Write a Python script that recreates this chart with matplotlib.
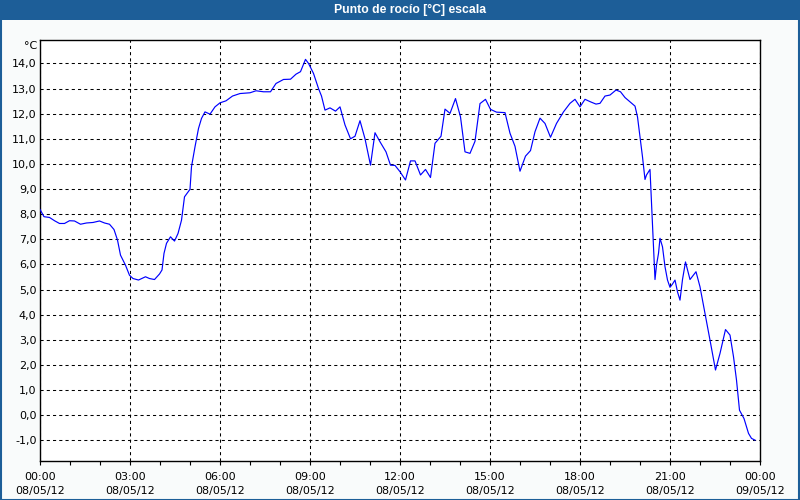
import matplotlib
matplotlib.use("Agg")
import matplotlib.pyplot as plt
from matplotlib.patches import Rectangle

# Readings: minutes after 08/05/12 00:00 and dew point (°C)
minutes = [0, 8, 19, 29, 39, 49, 59, 69, 81, 93, 106, 119, 129, 139, 148, 155, 161, 171,
           179, 186, 197, 211, 219, 229, 239, 244, 248, 253, 261, 269, 276, 283, 289, 300,
           303, 310, 317, 323, 330, 340, 350, 360, 372, 385, 400, 420, 432, 447, 461, 472,
           487, 501, 512, 521, 531, 537, 547, 557, 563, 570, 580, 591, 600, 610, 621, 630,
           640, 650, 661, 670, 680, 692, 701, 710, 720, 731, 741, 750, 761, 771, 781, 790,
           802, 810, 820, 831, 841, 850, 860, 870, 880, 891, 901, 913, 930, 940, 950, 960,
           971, 981, 990, 1000, 1010, 1021, 1033, 1047, 1060, 1070, 1080, 1090, 1101, 1112,
           1120, 1130, 1140, 1152, 1161, 1170, 1180, 1190, 1195, 1200, 1205, 1210, 1213,
           1220, 1223, 1227, 1230, 1233, 1237, 1240, 1245, 1250, 1255, 1260, 1265, 1270,
           1275, 1280, 1285, 1291, 1300, 1312, 1320, 1330, 1340, 1351, 1360, 1371, 1380,
           1387, 1393, 1399, 1408, 1417, 1423, 1430]
dew_point = [8.19, 7.90, 7.87, 7.74, 7.63, 7.63, 7.74, 7.73, 7.60, 7.65, 7.67, 7.73, 7.65,
             7.60, 7.39, 6.97, 6.37, 5.97, 5.57, 5.44, 5.38, 5.51, 5.44, 5.40, 5.62, 5.78,
             6.44, 6.84, 7.10, 6.93, 7.23, 7.76, 8.69, 8.99, 9.89, 10.68, 11.41, 11.81,
             12.07, 11.98, 12.27, 12.43, 12.51, 12.70, 12.80, 12.83, 12.91, 12.87, 12.87,
             13.20, 13.36, 13.37, 13.57, 13.67, 14.16, 14.00, 13.60, 13.00, 12.70, 12.14,
             12.23, 12.10, 12.27, 11.55, 11.00, 11.10, 11.72, 11.00, 9.95, 11.24, 10.88,
             10.48, 9.95, 9.94, 9.69, 9.36, 10.12, 10.12, 9.56, 9.78, 9.46, 10.82, 11.10,
             12.18, 12.01, 12.60, 11.87, 10.48, 10.42, 10.90, 12.40, 12.57, 12.17, 12.06,
             12.04, 11.22, 10.70, 9.71, 10.31, 10.53, 11.28, 11.82, 11.61, 11.06, 11.61,
             12.07, 12.41, 12.57, 12.27, 12.57, 12.47, 12.38, 12.41, 12.70, 12.74, 12.94,
             12.87, 12.64, 12.47, 12.30, 11.87, 11.08, 10.28, 9.38, 9.56, 9.78, 8.43, 6.70,
             5.40, 5.97, 6.44, 7.04, 6.70, 5.91, 5.38, 5.09, 5.22, 5.38, 4.91, 4.58, 5.40,
             6.10, 5.40, 5.71, 5.11, 4.05, 2.99, 1.80, 2.46, 3.41, 3.19, 2.33, 1.40, 0.20,
             -0.13, -0.72, -0.92, -0.99]

x_tick_hours = [0, 3, 6, 9, 12, 15, 18, 21, 24]
x_tick_labels = ["00:00\n08/05/12", "03:00\n08/05/12", "06:00\n08/05/12", "09:00\n08/05/12",
                 "12:00\n08/05/12", "15:00\n08/05/12", "18:00\n08/05/12", "21:00\n08/05/12",
                 "00:00\n09/05/12"]
y_ticks = [-1, 0, 1, 2, 3, 4, 5, 6, 7, 8, 9, 10, 11, 12, 13, 14]
title = "Punto de rocío [°C] escala"
unit = "°C"

BAR = "#1d5e98"
plt.rcParams['font.family'] = ['DejaVu Sans']

fig = plt.figure(figsize=(8, 5), dpi=100, facecolor="#f9fbfb")

# title bar
fig.patches.append(Rectangle((0, 1 - 20 / 500), 1, 20 / 500, transform=fig.transFigure,
                             facecolor=BAR, edgecolor="none", zorder=0))
# outer border
fig.patches.append(Rectangle((0.5 / 800, 0.5 / 500), 1 - 1.5 / 800, 1 - 1.5 / 500,
                             transform=fig.transFigure, facecolor="none", edgecolor=BAR,
                             linewidth=1.5, zorder=0))
fig.text(0.512, 1 - 10 / 500, title, color="white", fontweight="bold", fontsize=8.8,
         family=["Liberation Sans"], ha="center", va="center")

ax = fig.add_axes([40 / 800, 1 - 461 / 500, 720 / 800, 421 / 500])
ax.set_facecolor("white")

hours = [m / 60 for m in minutes]
ax.plot(hours, dew_point, color="#0000ff", linewidth=0.85, zorder=3)

ax.set_xlim(0, 24)
ax.set_ylim(-1.82, 14.93)
ax.set_xticks(x_tick_hours)
ax.set_xticklabels(x_tick_labels, fontsize=8, linespacing=1.5)
ax.set_xticks(range(0, 25), minor=True)
ax.set_yticks(y_ticks)
ax.set_yticklabels([f"{v:.1f}".replace(".", ",") for v in y_ticks], fontsize=8)

ax.tick_params(axis="x", which="both", direction="out", length=3, width=0.8, pad=5,
               colors="black")
ax.tick_params(axis="y", length=0, pad=2.5)

ax.grid(True, which="major", color="black", linestyle=(0, (3, 3)), linewidth=0.75)
for s in ax.spines.values():
    s.set_color("black")
    s.set_linewidth(1.0)

fig.text(37 / 800, 1 - 46 / 500, unit, fontsize=8, ha="right", va="center")

fig.savefig("out.png", dpi=100, facecolor=fig.get_facecolor())
